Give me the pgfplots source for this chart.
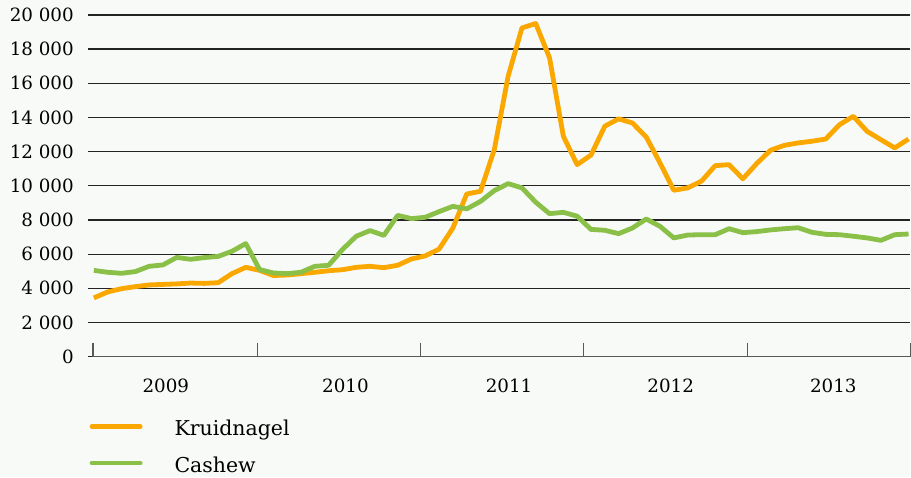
\documentclass[border=0pt]{standalone}
\usepackage{fontspec}
\setmainfont{DejaVu Serif}
\usepackage{pgfplots}
\pgfplotsset{compat=1.18}

\definecolor{kruid}{RGB}{250,168,0}
\definecolor{cashew}{RGB}{138,192,72}
\definecolor{bg}{RGB}{248,250,248}
\definecolor{gridc}{RGB}{35,35,35}

% month index 0 = jan 2009 ... 59 = dec 2013
\pgfplotstableread{
m    kruid  cashew
0    3440   5050
1    3790   4940
2    3980   4880
3    4100   4980
4    4200   5290
5    4230   5370
6    4260   5810
7    4310   5700
8    4290   5800
9    4330   5870
10   4860   6170
11   5230   6620
12   5050   5100
13   4750   4900
14   4780   4860
15   4860   4940
16   4940   5290
17   5030   5350
18   5090   6270
19   5230   7050
20   5290   7380
21   5210   7100
22   5350   8270
23   5720   8080
24   5900   8160
25   6300   8490
26   7530   8800
27   9520   8650
28   9680   9090
29   12120  9720
30   16410  10130
31   19240  9880
32   19500  9040
33   17490  8370
34   12900  8450
35   11240  8220
36   11800  7450
37   13490  7400
38   13920  7200
39   13680  7530
40   12860  8060
41   11340  7630
42   9740   6950
43   9880   7120
44   10270  7140
45   11180  7140
46   11240  7490
47   10410  7260
48   11300  7320
49   12080  7420
50   12370  7490
51   12510  7550
52   12610  7280
53   12740  7160
54   13580  7140
55   14070  7050
56   13190  6950
57   12700  6810
58   12220  7140
59   12740  7180
}\prices

\begin{document}
\begin{tikzpicture}[x=1pt,y=1pt]
\fill[bg] (0,0) rectangle (911,477);
\begin{axis}[
  at={(93pt,120pt)}, anchor=south west,
  scale only axis, width=818pt, height=342pt,
  xmin=-0.07, xmax=59.12, ymin=0, ymax=20000,
  clip=false,
  axis x line=bottom, axis y line=left,
  x axis line style={-, draw=black!65, line width=1.6pt},
  y axis line style={draw=none},
  major tick length=5pt, tick align=outside,
  ytick={0,2000,...,20000},
  ymajorgrids,
  major grid style={gridc, line width=1.3pt},
  ytick style={draw=gridc, line width=1.3pt},
  scaled y ticks=false,
  /pgf/number format/assume math mode=true,
  /pgf/number format/1000 sep={\ },
  yticklabel style={font=\fontsize{18.3}{20}\selectfont, anchor=east, inner sep=0pt, xshift=-14pt},
  xtick={5.21,18.22,30.07,41.77,53.55},
  xticklabels={2009,2010,2011,2012,2013},
  xtick style={draw=none},
  xticklabel style={font=\fontsize{18.3}{20}\selectfont, anchor=north, inner sep=0pt, yshift=-17pt},
  extra x ticks={-0.07,11.87,23.66,35.46,47.32,59.12},
  extra x tick labels={},
  extra x tick style={major tick length=14pt, tick align=inside,
    xtick style={draw=black!65, line width=1.3pt}},
  legend style={at={(0,0)}, anchor=north west, xshift=-3.5pt, yshift=-64pt,
    draw=none, fill=none, inner sep=0pt, row sep=16.6pt, column sep=32pt,
    font=\fontsize{20.5}{24}\selectfont,
    nodes={inner sep=0pt, text height=15pt, text depth=5pt}},
  legend cell align=left,
  legend image code/.code={\draw[#1, line cap=round] (0pt,4.3pt) -- (48.2pt,4.3pt);},
]
\addplot[kruid, line width=4.8pt, line join=round, no marks] table[x=m, y=kruid] {\prices};
\addlegendentry{Kruidnagel}
\addplot[cashew, line width=4.8pt, line join=round, no marks] table[x=m, y=cashew] {\prices};
\addlegendentry{Cashew}
\end{axis}
\end{tikzpicture}
\end{document}
